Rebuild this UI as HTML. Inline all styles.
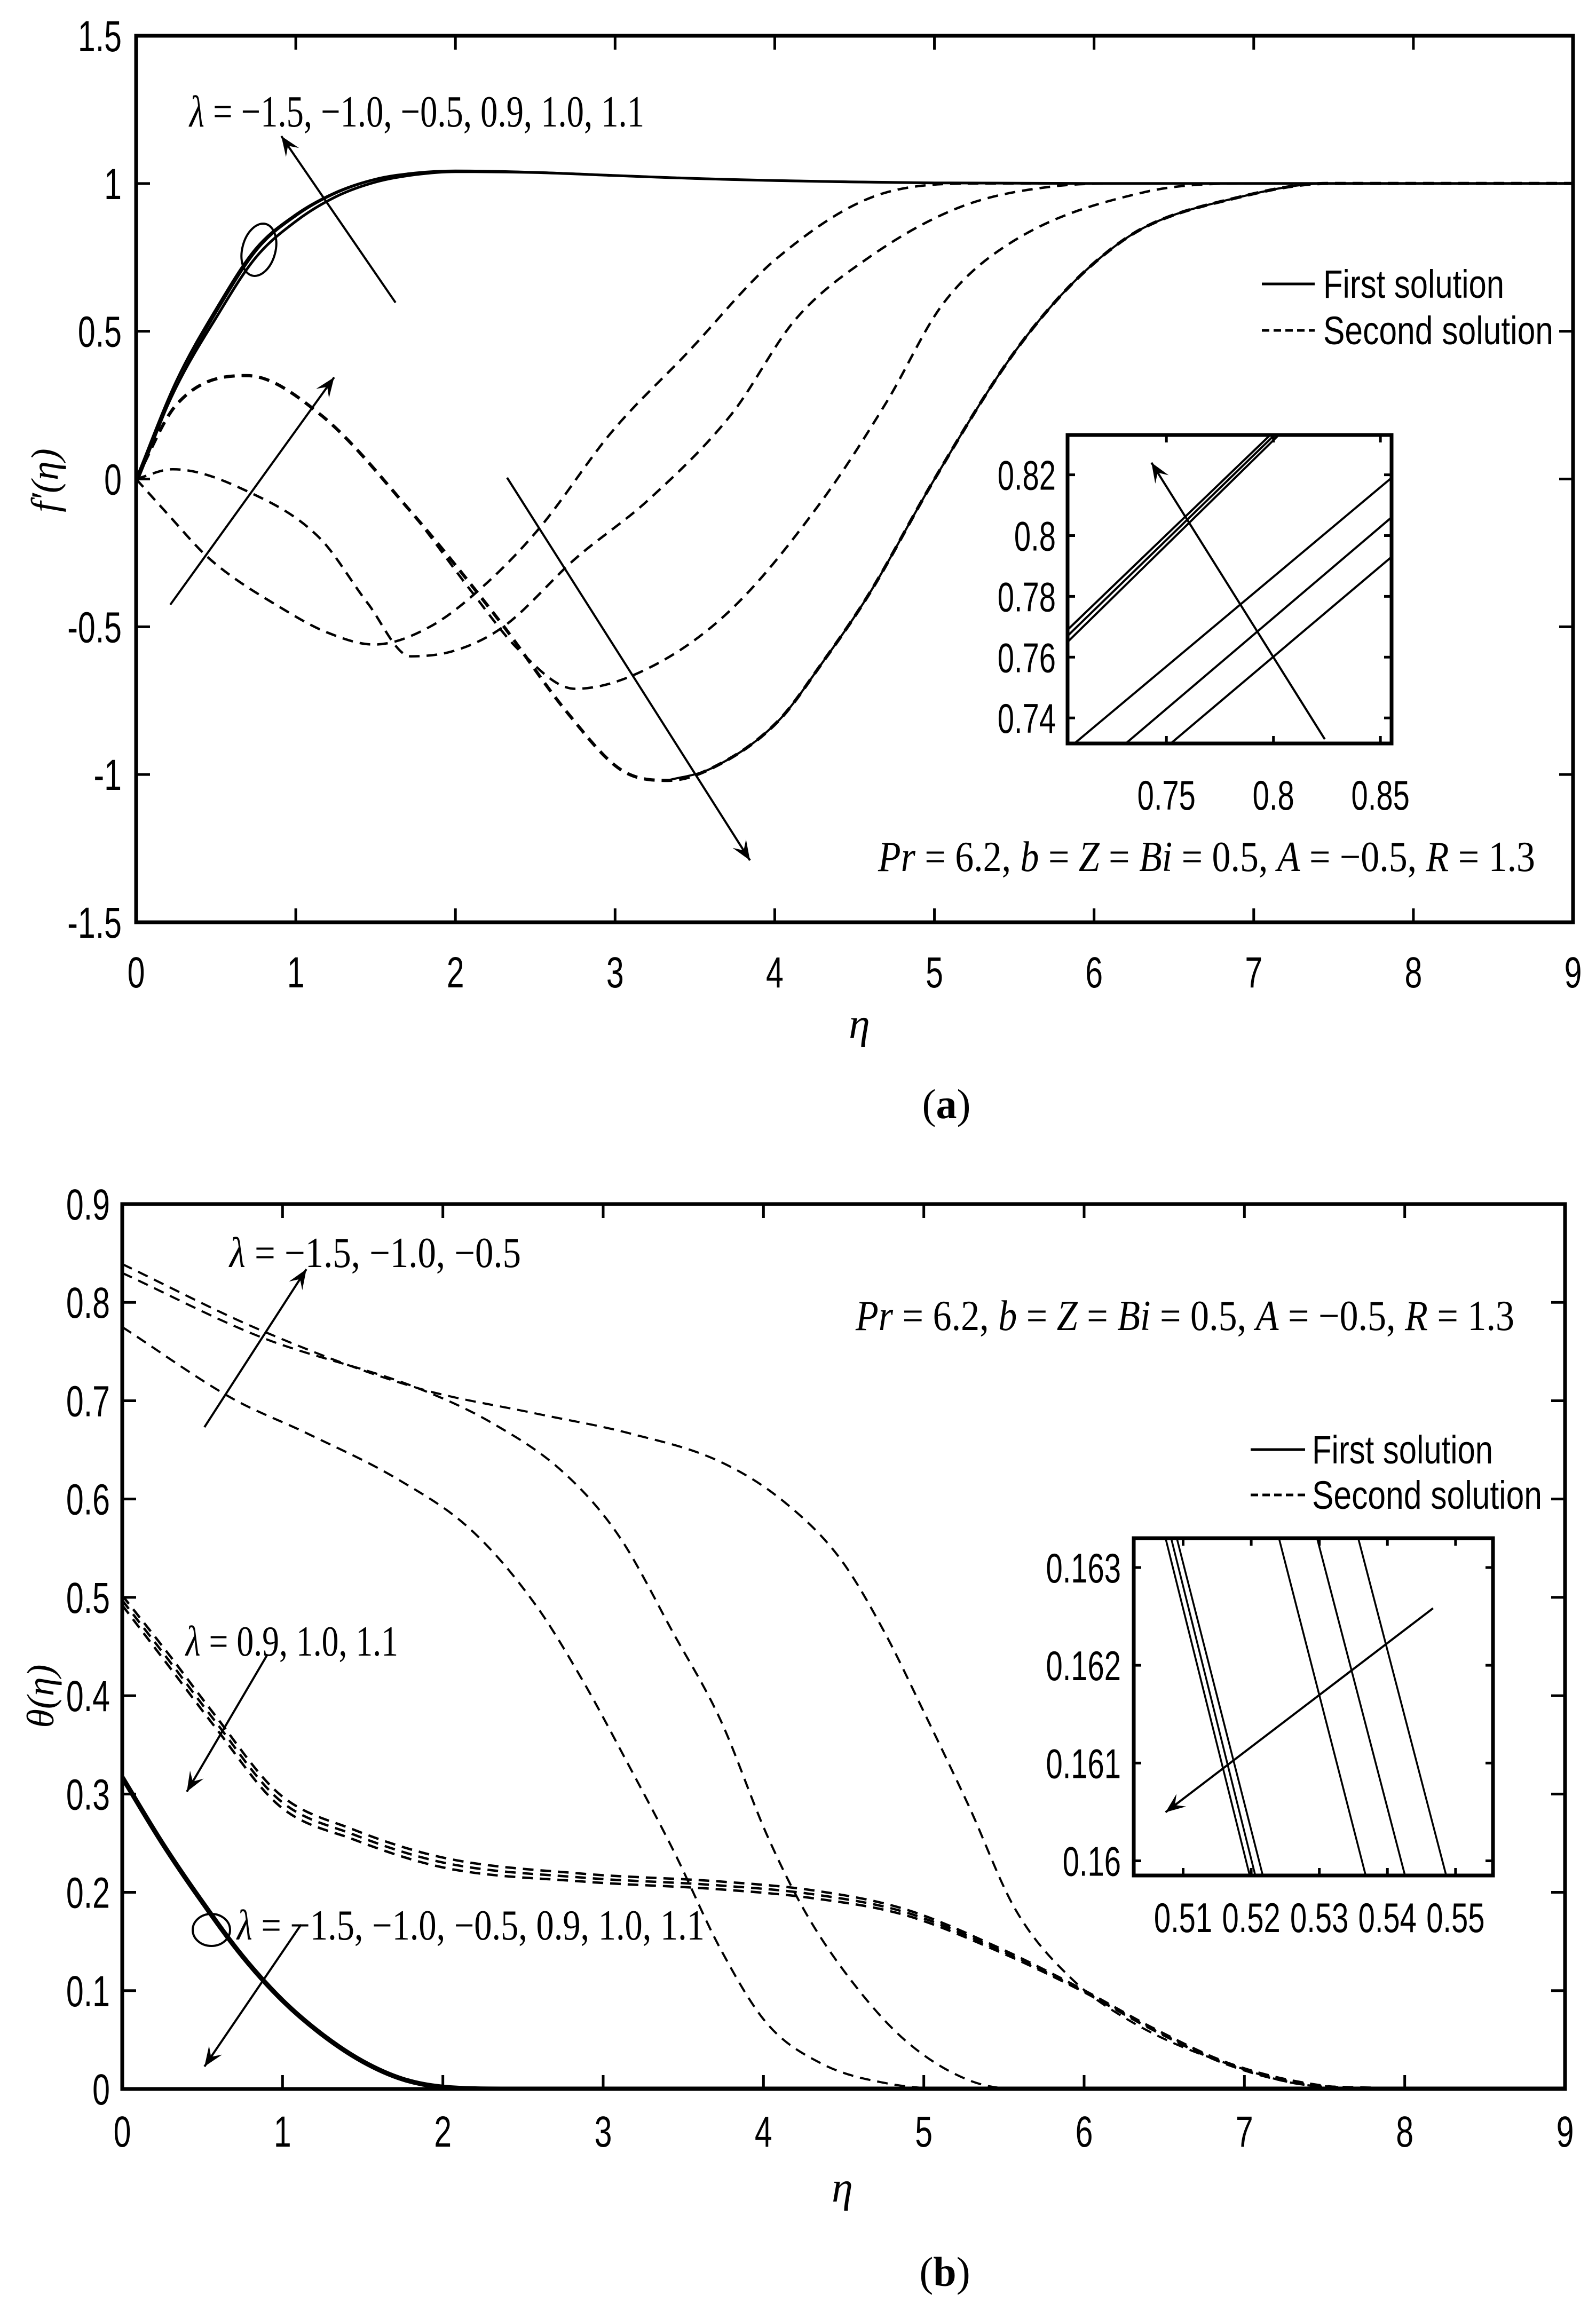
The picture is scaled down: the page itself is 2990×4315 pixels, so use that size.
<!DOCTYPE html>
<html><head><meta charset="utf-8"><title>Velocity and temperature profiles</title>
<style>html,body{margin:0;padding:0;background:#fff}svg{display:block}</style></head>
<body>
<svg id="fig" xmlns="http://www.w3.org/2000/svg" width="2990" height="4315" viewBox="0 0 2990 4315">
<rect x="0" y="0" width="2990" height="4315" fill="#fff"/>
</svg>
<script>
// ---------- Panel (a) data ----------
const aXTicks=[0,1,2,3,4,5,6,7,8,9];
const aYTicks=[-1.5,-1,-0.5,0,0.5,1,1.5];
const aYTickLabels=["-1.5","-1","-0.5","0","0.5","1","1.5"];
const aFirstEta=[0,0.25,0.5,0.75,1,1.25,1.5,1.75,2,2.5,3,3.5,4,5,6,9];
const aFirst1=[0,0.33,0.575,0.78,0.895,0.97,1.015,1.036,1.043,1.038,1.027,1.017,1.01,1.002,1,1];
const aFirst2=[0,0.31,0.545,0.75,0.872,0.955,1.005,1.03,1.04,1.037,1.027,1.017,1.01,1.002,1,1];
const aSecAEta=[0,0.2,0.46,0.92,1.2,1.49,1.84,2.18,2.52,2.98,3.44,4.02,4.7,5.3,9];
const aSecAVal=[0,-0.12,-0.27,-0.44,-0.52,-0.56,-0.5,-0.36,-0.17,0.16,0.42,0.75,0.97,1,1];
const aSecBEta=[0,0.23,0.69,1.15,1.45,1.72,2.0,2.3,2.75,3.21,3.73,4.13,4.59,5.16,5.74,6.2,9];
const aSecBVal=[0,0.033,-0.04,-0.2,-0.42,-0.6,-0.58,-0.5,-0.27,-0.07,0.22,0.54,0.75,0.92,0.99,1,1];
const aSecCEta=[0,0.25,0.69,1.15,1.72,2.1,2.4,2.75,3.21,3.73,4.3,4.7,5.05,5.45,6.31,7,9];
const aSecCVal=[0,0.25,0.35,0.22,-0.11,-0.38,-0.58,-0.71,-0.64,-0.44,-0.07,0.26,0.59,0.79,0.97,1,1];
const aDeepEta=[0,0.25,0.69,1.15,1.72,2.29,2.7,3.04,3.33,3.6,4.02,4.3,4.59,4.99,5.45,5.74,6.02,6.31,6.88,7.46,9];
const aDeepVal=[0,0.25,0.35,0.22,-0.11,-0.49,-0.79,-0.985,-1.02,-0.98,-0.82,-0.62,-0.39,-0.01,0.39,0.59,0.74,0.85,0.95,1,1];
const aDeepSolidEta=[3.33,3.6,4.02,4.3,4.59,4.99,5.45,5.74,6.02,6.31,6.88,7.46,9];
const aDeepSolidVal=[-1.02,-0.98,-0.82,-0.62,-0.39,-0.01,0.39,0.59,0.74,0.85,0.95,1,1];
// inset (a)
const aInsXTicks=[0.75,0.8,0.85];
const aInsXLabels=["0.75","0.8","0.85"];
const aInsYTicks=[0.74,0.76,0.78,0.8,0.82];
const aInsYLabels=["0.74","0.76","0.78","0.8","0.82"];
const aInsStartX=[0.7038,0.7038,0.7038,0.707,0.731,0.752];
const aInsStartY=[0.765,0.767,0.769,0.7316,0.7316,0.7316];
const aInsEndX=[0.8025,0.8005,0.7985,0.8552,0.8552,0.8552];
const aInsEndY=[0.8331,0.8331,0.8331,0.819,0.806,0.793];

// ---------- Panel (b) data ----------
const bXTicks=[0,1,2,3,4,5,6,7,8,9];
const bYTicks=[0,0.1,0.2,0.3,0.4,0.5,0.6,0.7,0.8,0.9];
const bYTickLabels=["0","0.1","0.2","0.3","0.4","0.5","0.6","0.7","0.8","0.9"];
const bFirstEta=[0,0.25,0.5,0.75,1.0,1.25,1.5,1.75,2.0,2.4,9];
const bFirstVal=[0.317,0.25,0.19,0.135,0.09,0.055,0.028,0.01,0.002,0,0];
const bT1Eta=[0,0.86,1.84,2.58,3.16,3.73,4.13,4.48,4.76,4.99,5.28,5.57,5.91,6.31,6.89,7.46,9];
const bT1Val=[0.839,0.772,0.713,0.687,0.667,0.638,0.597,0.539,0.463,0.387,0.288,0.183,0.114,0.067,0.026,0.003,0];
const bT2Eta=[0,0.86,1.84,2.3,2.76,3.1,3.44,3.73,4.02,4.25,4.53,4.88,5.28,5.6,9];
const bT2Val=[0.83,0.765,0.713,0.678,0.626,0.562,0.463,0.376,0.259,0.183,0.114,0.05,0.009,0,0];
const bT3Eta=[0,0.69,1.15,1.72,2.18,2.58,2.87,3.16,3.44,3.73,4.02,4.36,4.76,5.2,9];
const bT3Val=[0.775,0.702,0.667,0.62,0.568,0.492,0.416,0.329,0.242,0.143,0.067,0.026,0.006,0,0];
const bMidEta=[0,0.3,0.57,0.98,1.44,2.01,2.87,3.73,4.31,4.88,5.45,5.97,6.43,6.89,7.35,7.8,9];
const bMid1=[0.502,0.44,0.382,0.3,0.264,0.235,0.219,0.211,0.202,0.183,0.145,0.103,0.062,0.027,0.007,0,0];
const bMid2=[0.497,0.434,0.376,0.294,0.259,0.23,0.215,0.207,0.198,0.18,0.143,0.102,0.061,0.026,0.006,0,0];
const bMid3=[0.492,0.428,0.37,0.288,0.254,0.225,0.211,0.203,0.194,0.177,0.141,0.101,0.06,0.025,0.005,0,0];
// inset (b)
const bInsXTicks=[0.51,0.52,0.53,0.54,0.55];
const bInsXLabels=["0.51","0.52","0.53","0.54","0.55"];
const bInsYTicks=[0.16,0.161,0.162,0.163];
const bInsYLabels=["0.16","0.161","0.162","0.163"];
const bInsTopX=[0.50742,0.50824,0.50907,0.52407,0.52967,0.53571];
const bInsBotX=[0.51978,0.5206,0.5217,0.53681,0.54258,0.54863];

// ---------- helpers ----------
const NS="http://www.w3.org/2000/svg";
const svg=document.getElementById('fig');
function mk(tag,attrs,parent){const e=document.createElementNS(NS,tag);for(const k in attrs)e.setAttribute(k,attrs[k]);(parent||svg).appendChild(e);return e;}
function lin(d0,d1,r0,r1){return v=>r0+(v-d0)*(r1-r0)/(d1-d0);}
function pathD(xs,ys,fx,fy){
  const n=xs.length, d=[], m=new Array(n);
  for(let i=0;i<n-1;i++) d.push((ys[i+1]-ys[i])/(xs[i+1]-xs[i]));
  m[0]=d[0]; m[n-1]=d[n-2];
  for(let i=1;i<n-1;i++){ m[i]=(d[i-1]*d[i]<=0)?0:(d[i-1]+d[i])/2; }
  for(let i=0;i<n-1;i++){
    if(d[i]===0){m[i]=0;m[i+1]=0;continue;}
    const a=m[i]/d[i], b=m[i+1]/d[i], s=a*a+b*b;
    if(s>9){const t=3/Math.sqrt(s);m[i]=t*a*d[i];m[i+1]=t*b*d[i];}
  }
  let out='M'+fx(xs[0]).toFixed(1)+','+fy(ys[0]).toFixed(1);
  for(let i=0;i<n-1;i++){
    const h=xs[i+1]-xs[i];
    const c1x=xs[i]+h/3, c1y=ys[i]+m[i]*h/3;
    const c2x=xs[i+1]-h/3, c2y=ys[i+1]-m[i+1]*h/3;
    out+=' C'+fx(c1x).toFixed(1)+','+fy(c1y).toFixed(1)+' '+fx(c2x).toFixed(1)+','+fy(c2y).toFixed(1)+' '+fx(xs[i+1]).toFixed(1)+','+fy(ys[i+1]).toFixed(1);
  }
  return out;
}
function sansText(x,y,str,size,anchor,parent){
  const g=mk('g',{transform:`translate(${x},${y}) scale(0.72,1)`},parent);
  const t=mk('text',{x:0,y:0,'font-family':'"Liberation Sans", sans-serif','font-size':size,'text-anchor':anchor||'middle',fill:'#000'},g);
  t.textContent=str;return t;
}
function arrow(x1,y1,x2,y2,name,parent){
  const g=mk('g',{},parent);
  
  
  mk('line',{x1,y1,x2,y2,stroke:'#000','stroke-width':4},g);
  const a=Math.atan2(y2-y1,x2-x1),L=40,w=0.38;
  const p=[[x2,y2],[x2-L*Math.cos(a-w),y2-L*Math.sin(a-w)],[x2-L*0.55*Math.cos(a),y2-L*0.55*Math.sin(a)],[x2-L*Math.cos(a+w),y2-L*Math.sin(a+w)]];
  mk('polygon',{points:p.map(q=>q.join(',')).join(' '),fill:'#000'},g);
}
function mathText(x,y,parts,size,len,name){
  const t=mk('text',{x,y,'font-family':'"Liberation Serif", serif','font-size':size,fill:'#000',textLength:len,lengthAdjust:'spacingAndGlyphs'});
  
  
  parts.forEach(p=>{const s=mk('tspan',p[1]?{'font-style':'italic'}:{},t);s.textContent=p[0];});
  return t;
}
function axesBox(L,T,R,B,fx,fy,xt,yt,tickLen,name){
  const g=mk('g',{});
  
  
  xt.forEach(v=>{const x=fx(v);
    mk('line',{x1:x,y1:B,x2:x,y2:B-tickLen,stroke:'#000','stroke-width':5},g);
    mk('line',{x1:x,y1:T,x2:x,y2:T+tickLen,stroke:'#000','stroke-width':5},g);});
  yt.forEach(v=>{const y=fy(v);
    mk('line',{x1:L,y1:y,x2:L+tickLen,y2:y,stroke:'#000','stroke-width':5},g);
    mk('line',{x1:R,y1:y,x2:R-tickLen,y2:y,stroke:'#000','stroke-width':5},g);});
  mk('rect',{x:L,y:T,width:R-L,height:B-T,fill:'none',stroke:'#000','stroke-width':7},g);
  return g;
}
function curve(xs,ys,fx,fy,dashed,name,sw,clip){
  const p=mk('path',{d:pathD(xs,ys,fx,fy),fill:'none',stroke:'#000','stroke-width':sw||4,'stroke-dasharray':dashed?'20 13':'none','stroke-linejoin':'round'});
  if(clip)p.setAttribute('clip-path',clip);
  
  
  return p;
}
const defs=mk('defs',{});

// ================= PANEL A =================
const aL=255,aR=2947,aT=67,aB=1728;
const ax=lin(0,9,aL,aR), ay=lin(-1.5,1.5,aB,aT);
{const cp=mk('clipPath',{id:'clipA'},defs);mk('rect',{x:aL,y:aT,width:aR-aL,height:aB-aT},cp);}

curve(aFirstEta,aFirst1,ax,ay,false,'first-solution-upper',4.5,'url(#clipA)');
curve(aFirstEta.map(e=>e+0.015),aFirst1,ax,ay,false,'first-solution-upper-2',3.5,'url(#clipA)');
curve(aFirstEta,aFirst2,ax,ay,false,'first-solution-lower',5,'url(#clipA)');
curve(aSecAEta,aSecAVal,ax,ay,true,'second-solution-a',4.5,'url(#clipA)');
curve(aSecBEta,aSecBVal,ax,ay,true,'second-solution-b',4.5,'url(#clipA)');
curve(aSecCEta,aSecCVal,ax,ay,true,'second-solution-c',4.5,'url(#clipA)');
curve(aDeepEta,aDeepVal,ax,ay,true,'second-solution-deep',6,'url(#clipA)');
curve(aDeepSolidEta,aDeepSolidVal,ax,ay,false,'second-solution-deep-solid',4,'url(#clipA)');

axesBox(aL,aT,aR,aB,ax,ay,aXTicks,aYTicks,26,'axes-a');
aXTicks.forEach(v=>{const t=sansText(ax(v),1850,String(v),82,'middle');});
aYTicks.forEach((v,i)=>{const t=sansText(228,ay(v)+29,aYTickLabels[i],82,'end');});

mathText(355,237,[['λ',true],[' = −1.5, −1.0, −0.5, 0.9, 1.0, 1.1',false]],84,852,'lambda-label-a');
arrow(741,567,527,255,'arrow-first-solution-a');
const ea=mk('ellipse',{cx:485,cy:468,rx:31,ry:50,transform:'rotate(15 485 468)',fill:'none',stroke:'#000','stroke-width':4});

arrow(319,1133,626,707,'arrow-second-up-a');
arrow(950,895,1405,1612,'arrow-second-down-a');
mathText(1645,1632,[['Pr',true],[' = 6.2, ',false],['b',true],[' = ',false],['Z',true],[' = ',false],['Bi',true],[' = 0.5, ',false],['A',true],[' = −0.5, ',false],['R',true],[' = 1.3',false]],80,1231,'params-label-a');

{const g=mk('g',{});
mk('line',{x1:2364,y1:532,x2:2463,y2:532,stroke:'#000','stroke-width':5},g);
mk('line',{x1:2364,y1:619,x2:2463,y2:619,stroke:'#000','stroke-width':5,'stroke-dasharray':'14 8'},g);
const t1=mk('text',{x:2479,y:558,'font-family':'"Liberation Sans", sans-serif','font-size':74,textLength:339,lengthAdjust:'spacingAndGlyphs'},g);t1.textContent='First solution';
const t2=mk('text',{x:2479,y:645,'font-family':'"Liberation Sans", sans-serif','font-size':74,textLength:431,lengthAdjust:'spacingAndGlyphs'},g);t2.textContent='Second solution';}

{const t=mk('text',{x:1610,y:1945,'font-family':'"Liberation Serif", serif','font-size':80,'font-style':'italic','text-anchor':'middle'});t.textContent='η';}
{const t=mk('text',{x:0,y:0,transform:'translate(108,900) rotate(-90)','font-family':'"Liberation Serif", serif','font-size':72,'font-style':'italic','text-anchor':'middle'});t.textContent='f′(η)';}
{const t=mk('text',{x:1773,y:2095,'font-family':'"Liberation Serif", serif','font-size':78,'text-anchor':'middle'});
 const s1=mk('tspan',{},t);s1.textContent='(';const s2=mk('tspan',{'font-weight':'bold'},t);s2.textContent='a';const s3=mk('tspan',{},t);s3.textContent=')';}

const iaL=2000,iaR=2607,iaT=815,iaB=1393;
const iax=lin(0.7038,0.8552,iaL,iaR), iay=lin(0.7316,0.8331,iaB,iaT);
mk('rect',{x:iaL,y:iaT,width:iaR-iaL,height:iaB-iaT,fill:'#fff'});
{const cp=mk('clipPath',{id:'clipIA'},defs);mk('rect',{x:iaL,y:iaT,width:iaR-iaL,height:iaB-iaT},cp);}
aInsStartX.forEach((v,i)=>{const l=mk('line',{x1:iax(v),y1:iay(aInsStartY[i]),x2:iax(aInsEndX[i]),y2:iay(aInsEndY[i]),stroke:'#000','stroke-width':4,'clip-path':'url(#clipIA)'});
  });
arrow(iax(0.824),iay(0.733),iax(0.743),iay(0.824),'inset-a-arrow');
axesBox(iaL,iaT,iaR,iaB,iax,iay,aInsXTicks,aInsYTicks,14,'inset-a-axes');
aInsXTicks.forEach((v,i)=>{const t=sansText(iax(v),1517,aInsXLabels[i],78,'middle');});
aInsYTicks.forEach((v,i)=>{const t=sansText(1978,iay(v)+28,aInsYLabels[i],78,'end');});

// ================= PANEL B =================
const bL=229,bR=2932,bT=2256,bB=3914;
const bx=lin(0,9,bL,bR), by=lin(0,0.9,bB,bT);
{const cp=mk('clipPath',{id:'clipB'},defs);mk('rect',{x:bL,y:bT,width:bR-bL,height:bB-bT},cp);}
curve(bFirstEta,bFirstVal,bx,by,false,'first-solution-b',9,'url(#clipB)');
curve(bT1Eta,bT1Val,bx,by,true,'second-solution-b-top1',4,'url(#clipB)');
curve(bT2Eta,bT2Val,bx,by,true,'second-solution-b-top2',4,'url(#clipB)');
curve(bT3Eta,bT3Val,bx,by,true,'second-solution-b-top3',4,'url(#clipB)');
curve(bMidEta,bMid1,bx,by,true,'second-solution-b-mid1',4.5,'url(#clipB)');
curve(bMidEta,bMid2,bx,by,true,'second-solution-b-mid2',4.5,'url(#clipB)');
curve(bMidEta,bMid3,bx,by,true,'second-solution-b-mid3',4.5,'url(#clipB)');

axesBox(bL,bT,bR,bB,bx,by,bXTicks,bYTicks,26,'axes-b');
bXTicks.forEach(v=>{const t=sansText(bx(v),4022,String(v),82,'middle');});
bYTicks.forEach((v,i)=>{const t=sansText(206,by(v)+29,bYTickLabels[i],82,'end');});

mathText(430,2374,[['λ',true],[' = −1.5, −1.0, −0.5',false]],80,546,'lambda-label-b-top');
arrow(383,2674,574,2378,'arrow-b-top');
mathText(1603,2492,[['Pr',true],[' = 6.2, ',false],['b',true],[' = ',false],['Z',true],[' = ',false],['Bi',true],[' = 0.5, ',false],['A',true],[' = −0.5, ',false],['R',true],[' = 1.3',false]],80,1234,'params-label-b');
mathText(348,3102,[['λ',true],[' = 0.9, 1.0, 1.1',false]],80,398,'lambda-label-b-mid');
arrow(501,3100,350,3357,'arrow-b-mid');
{const e=mk('ellipse',{cx:396,cy:3616,rx:35,ry:30,fill:'none',stroke:'#000','stroke-width':4});}
mathText(444,3634,[['λ',true],[' = −1.5, −1.0, −0.5, 0.9, 1.0, 1.1',false]],80,876,'lambda-label-b-bottom');
arrow(564,3606,383,3872,'arrow-b-bottom');

{const g=mk('g',{});
mk('line',{x1:2343,y1:2716,x2:2445,y2:2716,stroke:'#000','stroke-width':5},g);
mk('line',{x1:2343,y1:2801,x2:2445,y2:2801,stroke:'#000','stroke-width':5,'stroke-dasharray':'14 8'},g);
const t1=mk('text',{x:2458,y:2742,'font-family':'"Liberation Sans", sans-serif','font-size':74,textLength:339,lengthAdjust:'spacingAndGlyphs'},g);t1.textContent='First solution';
const t2=mk('text',{x:2458,y:2827,'font-family':'"Liberation Sans", sans-serif','font-size':74,textLength:431,lengthAdjust:'spacingAndGlyphs'},g);t2.textContent='Second solution';}

{const t=mk('text',{x:1578,y:4125,'font-family':'"Liberation Serif", serif','font-size':80,'font-style':'italic','text-anchor':'middle'});t.textContent='η';}
{const t=mk('text',{x:0,y:0,transform:'translate(100,3178) rotate(-90)','font-family':'"Liberation Serif", serif','font-size':72,'font-style':'italic','text-anchor':'middle'});t.textContent='θ(η)';}
{const t=mk('text',{x:1770,y:4283,'font-family':'"Liberation Serif", serif','font-size':78,'text-anchor':'middle'});
 const s1=mk('tspan',{},t);s1.textContent='(';const s2=mk('tspan',{'font-weight':'bold'},t);s2.textContent='b';const s3=mk('tspan',{},t);s3.textContent=')';}

const ibL=2124,ibR=2797,ibT=2882,ibB=3514;
const ibx=lin(0.50275,0.5555,ibL,ibR), iby=lin(0.15985,0.1633,ibB,ibT);
mk('rect',{x:ibL,y:ibT,width:ibR-ibL,height:ibB-ibT,fill:'#fff'});
{const cp=mk('clipPath',{id:'clipIB'},defs);mk('rect',{x:ibL,y:ibT,width:ibR-ibL,height:ibB-ibT},cp);}
bInsTopX.forEach((v,i)=>{const l=mk('line',{x1:ibx(v),y1:iby(0.1633),x2:ibx(bInsBotX[i]),y2:iby(0.15985),stroke:'#000','stroke-width':3.5,'clip-path':'url(#clipIB)'});
  });
arrow(ibx(0.5467),iby(0.162583),ibx(0.50742),iby(0.160497),'inset-b-arrow');
axesBox(ibL,ibT,ibR,ibB,ibx,iby,bInsXTicks,bInsYTicks,14,'inset-b-axes');
bInsXTicks.forEach((v,i)=>{const t=sansText(ibx(v),3620,bInsXLabels[i],78,'middle');});
bInsYTicks.forEach((v,i)=>{const t=sansText(2100,iby(v)+28,bInsYLabels[i],78,'end');});
</script>
</body></html>
